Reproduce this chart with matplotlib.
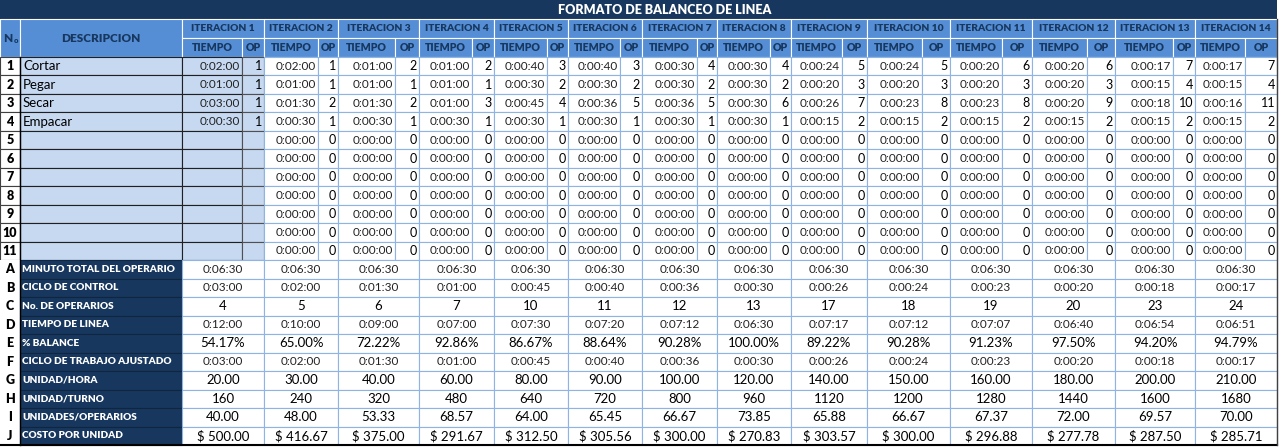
import matplotlib
matplotlib.use('Agg')
from matplotlib import pyplot as plt
from matplotlib.patches import Rectangle

plt.rcParams['font.family'] = ['Lato', 'DejaVu Sans']

# ---- data ----
titulo = 'FORMATO DE BALANCEO DE LINEA'
descripciones = ['Cortar', 'Pegar', 'Secar', 'Empacar']
iteraciones = ['ITERACION %d' % (i + 1) for i in range(14)]

tiempos = [
    ['0:02:00', '0:01:00', '0:03:00', '0:00:30'],
    ['0:02:00', '0:01:00', '0:01:30', '0:00:30'],
    ['0:01:00', '0:01:00', '0:01:30', '0:00:30'],
    ['0:01:00', '0:01:00', '0:01:00', '0:00:30'],
    ['0:00:40', '0:00:30', '0:00:45', '0:00:30'],
    ['0:00:40', '0:00:30', '0:00:36', '0:00:30'],
    ['0:00:30', '0:00:30', '0:00:36', '0:00:30'],
    ['0:00:30', '0:00:30', '0:00:30', '0:00:30'],
    ['0:00:24', '0:00:20', '0:00:26', '0:00:15'],
    ['0:00:24', '0:00:20', '0:00:23', '0:00:15'],
    ['0:00:20', '0:00:20', '0:00:23', '0:00:15'],
    ['0:00:20', '0:00:20', '0:00:20', '0:00:15'],
    ['0:00:17', '0:00:15', '0:00:18', '0:00:15'],
    ['0:00:17', '0:00:15', '0:00:16', '0:00:15'],
]
operarios = [
    [1, 1, 1, 1], [1, 1, 2, 1], [2, 1, 2, 1], [2, 1, 3, 1],
    [3, 2, 4, 1], [3, 2, 5, 1], [4, 2, 5, 1], [4, 2, 6, 1],
    [5, 3, 7, 2], [5, 3, 8, 2], [6, 3, 8, 2], [6, 3, 9, 2],
    [7, 4, 10, 2], [7, 4, 11, 2],
]

letras = list('ABCDEFGHIJ')
conceptos = ['MINUTO TOTAL DEL OPERARIO', 'CICLO DE CONTROL', 'No. DE OPERARIOS',
             'TIEMPO DE LINEA', '% BALANCE', 'CICLO DE TRABAJO AJUSTADO',
             'UNIDAD/HORA', 'UNIDAD/TURNO', 'UNIDADES/OPERARIOS', 'COSTO POR UNIDAD']
minuto_total = ['0:06:30'] * 14
ciclo_control = ['0:03:00', '0:02:00', '0:01:30', '0:01:00', '0:00:45', '0:00:40', '0:00:36',
                 '0:00:30', '0:00:26', '0:00:24', '0:00:23', '0:00:20', '0:00:18', '0:00:17']
num_operarios = ['4', '5', '6', '7', '10', '11', '12', '13', '17', '18', '19', '20', '23', '24']
tiempo_linea = ['0:12:00', '0:10:00', '0:09:00', '0:07:00', '0:07:30', '0:07:20', '0:07:12',
                '0:06:30', '0:07:17', '0:07:12', '0:07:07', '0:06:40', '0:06:54', '0:06:51']
balance = ['54.17%', '65.00%', '72.22%', '92.86%', '86.67%', '88.64%', '90.28%',
           '100.00%', '89.22%', '90.28%', '91.23%', '97.50%', '94.20%', '94.79%']
ciclo_ajustado = list(ciclo_control)
unidad_hora = ['20.00', '30.00', '40.00', '60.00', '80.00', '90.00', '100.00',
               '120.00', '140.00', '150.00', '160.00', '180.00', '200.00', '210.00']
unidad_turno = ['160', '240', '320', '480', '640', '720', '800',
                '960', '1120', '1200', '1280', '1440', '1600', '1680']
unid_operario = ['40.00', '48.00', '53.33', '68.57', '64.00', '65.45', '66.67',
                 '73.85', '65.88', '66.67', '67.37', '72.00', '69.57', '70.00']
costo_unidad = ['$ 500.00', '$ 416.67', '$ 375.00', '$ 291.67', '$ 312.50', '$ 305.56', '$ 300.00',
                '$ 270.83', '$ 303.57', '$ 300.00', '$ 296.88', '$ 277.78', '$ 287.50', '$ 285.71']
resumen = [minuto_total, ciclo_control, num_operarios, tiempo_linea, balance,
           ciclo_ajustado, unidad_hora, unidad_turno, unid_operario, costo_unidad]
es_tiempo = [True, True, False, True, False, True, False, False, False, False]

# ---- layout (pixels) ----
W, H = 1279, 448
x_num, x_desc = 0, 20
iter_x = [182, 264, 338, 419, 494, 568, 642, 717, 791, 867, 950, 1032, 1115, 1195, 1277]
op_x = [242, 318, 395, 472, 547, 620, 697, 770, 842, 922, 1002, 1087, 1173, 1245]
y_title, y_h1, y_h2, y_data = 0, 19, 38, 57
row_h = (445 - 57) / 21.0

NAVY = '#17375e'
HEAD = '#558ed5'
LIGHT = '#c6d9f1'
GRID = '#8db4e2'
HB = 'heavy'

fig = plt.figure(figsize=(W / 100, H / 100), dpi=100)
ax = fig.add_axes([0, 0, 1, 1])
ax.set_xlim(0, W)
ax.set_ylim(H, 0)
ax.axis('off')


def cell(x0, x1, y0, y1, fc, ec=None, lw=0.8):
    ax.add_patch(Rectangle((x0, y0), x1 - x0, y1 - y0, facecolor=fc,
                           edgecolor=ec if ec else 'none', linewidth=lw))


def txt(x, y, s, ha='center', size=8, weight='normal', color='black'):
    ax.text(x, y, s, ha=ha, va='center', fontsize=size, fontweight=weight, color=color)


# title
cell(0, iter_x[-1], y_title, y_h1, NAVY)
txt(665, (y_title + y_h1) / 2, titulo, size=9, weight=HB, color='white')

# header
cell(x_num, x_desc, y_h1, y_data, HEAD, 'white')
yc_h = (y_h1 + y_data) / 2
txt(8, yc_h, 'N', size=8.5, weight=HB, color=NAVY)
txt(16, yc_h + 2.5, 'o', size=5.5, weight=HB, color=NAVY)
cell(x_desc, iter_x[0], y_h1, y_data, HEAD, 'white')
txt((x_desc + iter_x[0]) / 2, yc_h, 'DESCRIPCION', size=8.5, weight=HB, color=NAVY)
for i, nombre in enumerate(iteraciones):
    a, m, b = iter_x[i], op_x[i], iter_x[i + 1]
    cell(a, b, y_h1, y_h2, HEAD, 'white')
    txt((a + b) / 2, (y_h1 + y_h2) / 2, nombre, size=7.4, weight=HB, color=NAVY)
    cell(a, m, y_h2, y_data, HEAD, 'white')
    txt((a + m) / 2, (y_h2 + y_data) / 2, 'TIEMPO', size=7.6, weight=HB, color=NAVY)
    cell(m, b, y_h2, y_data, HEAD, 'white')
    txt((m + b) / 2, (y_h2 + y_data) / 2, 'OP', size=7.6, weight=HB, color=NAVY)

# operation rows
for r in range(11):
    y0 = y_data + r * row_h
    y1 = y0 + row_h
    yc = (y0 + y1) / 2
    cell(x_num, x_desc, y0, y1, 'white', '#404040')
    txt((x_num + x_desc) / 2, yc, str(r + 1), size=9, weight=HB)
    cell(x_desc, iter_x[0], y0, y1, LIGHT, '#202020')
    cell(iter_x[0], op_x[0], y0, y1, LIGHT, '#202020')
    cell(op_x[0], iter_x[1], y0, y1, LIGHT, '#505050')
    if r < len(descripciones):
        txt(x_desc + 3, yc, descripciones[r], ha='left', size=9.5)
    for i in range(14):
        a, m, b = iter_x[i], op_x[i], iter_x[i + 1]
        if i == 0:
            if r < 4:
                txt(m - 2, yc, tiempos[i][r], ha='right', size=8.5, color='#222222')
                txt(b - 2, yc, str(operarios[i][r]), ha='right', size=9)
            continue
        cell(a, m, y0, y1, 'white', GRID)
        cell(m, b, y0, y1, 'white', GRID)
        t = tiempos[i][r] if r < 4 else '0:00:00'
        o = str(operarios[i][r]) if r < 4 else '0'
        txt(m - 2, yc, t, ha='right', size=8.5, color='#222222')
        txt(b - 2, yc, o, ha='right', size=9)

# summary rows
for k, letra in enumerate(letras):
    y0 = y_data + (11 + k) * row_h
    y1 = y0 + row_h
    yc = (y0 + y1) / 2
    cell(x_num, x_desc, y0, y1, 'white')
    txt((x_num + x_desc) / 2, yc, letra, size=9, weight=HB)
    cell(x_desc, iter_x[0], y0, y1, NAVY, '#0f2540')
    txt(x_desc + 2, yc, conceptos[k], ha='left', size=7.2, weight=HB, color='white')
    for i in range(14):
        a, b = iter_x[i], iter_x[i + 1]
        cell(a, b, y0, y1, 'white', GRID)
        if es_tiempo[k]:
            txt((a + b) / 2, yc, resumen[k][i], size=8.5, color='#222222')
        else:
            txt((a + b) / 2, yc, resumen[k][i], size=9.5)

# outer lines
y_end = y_data + 21 * row_h
ax.plot([0, iter_x[-1]], [y_end, y_end], color='black', lw=1.5)
ax.plot([iter_x[-1], iter_x[-1]], [y_h1, y_end], color='#404040', lw=1)
ax.plot([x_desc, x_desc], [y_data, y_end], color='black', lw=1)

fig.savefig('out.png', dpi=100)
